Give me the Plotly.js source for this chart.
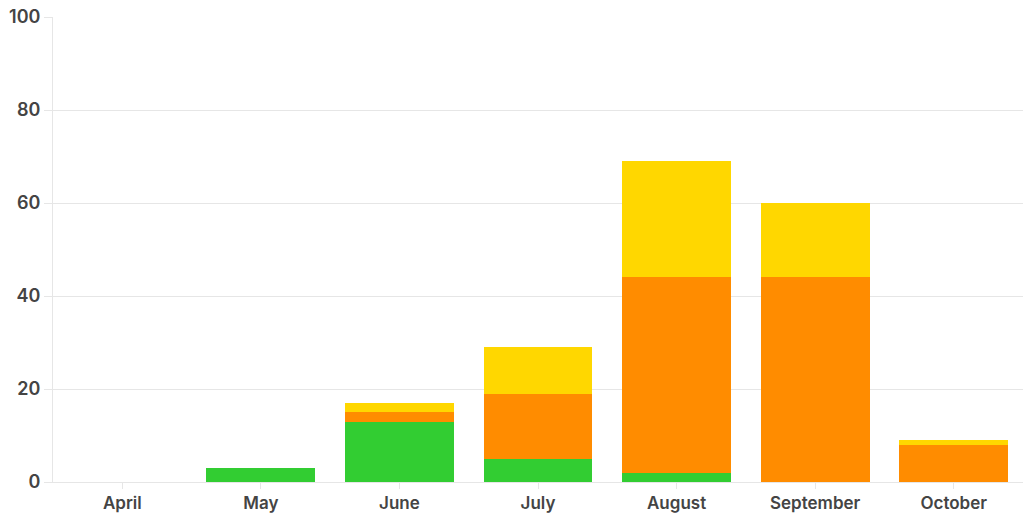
<!DOCTYPE html>
<html><head><meta charset="utf-8">
<script src="https://cdn.plot.ly/plotly-3.0.1.min.js"></script>
<style>html,body{margin:0;padding:0;background:#fff}#chart{width:1024px;height:521px}</style>
</head><body><div id="chart"></div>
<script>
const months = ["April","May","June","July","August","September","October"];
const greenVals = [0,3,13,5,2,0,0];
const orangeVals = [0,0,2,14,42,44,8];
const yellowVals = [0,0,2,10,25,16,1];
const yTicks = [0,20,40,60,80,100];

const mk = (y,c)=>({type:'bar',x:months,y:y,marker:{color:c,line:{width:0}},hoverinfo:'y'});
const data = [mk(greenVals,'#32CD32'),mk(orangeVals,'#FF8C00'),mk(yellowVals,'#FFD700')];
const layout = {
  width:1024,height:521,barmode:'stack',bargap:0.214,showlegend:false,
  margin:{l:53,r:1,t:17,b:39},
  paper_bgcolor:'#fff',plot_bgcolor:'#fff',
  font:{family:'Inter, Roboto, sans-serif',size:16,color:'#444'},
  xaxis:{showgrid:false,showline:true,linecolor:'#e6e6e6',linewidth:1,ticks:'outside',ticklen:6,tickcolor:'#e6e6e6',
    tickfont:{size:17,color:'#444',weight:600}},
  yaxis:{range:[0,100],tickvals:yTicks,showgrid:true,gridcolor:'#e6e6e6',showline:true,linecolor:'#e6e6e6',
    ticks:'outside',ticklen:8,tickcolor:'#e6e6e6',zeroline:false,tickfont:{size:18,color:'#444',weight:600}}
};
Plotly.newPlot('chart',data,layout,{displayModeBar:false,staticPlot:true});
</script></body></html>
